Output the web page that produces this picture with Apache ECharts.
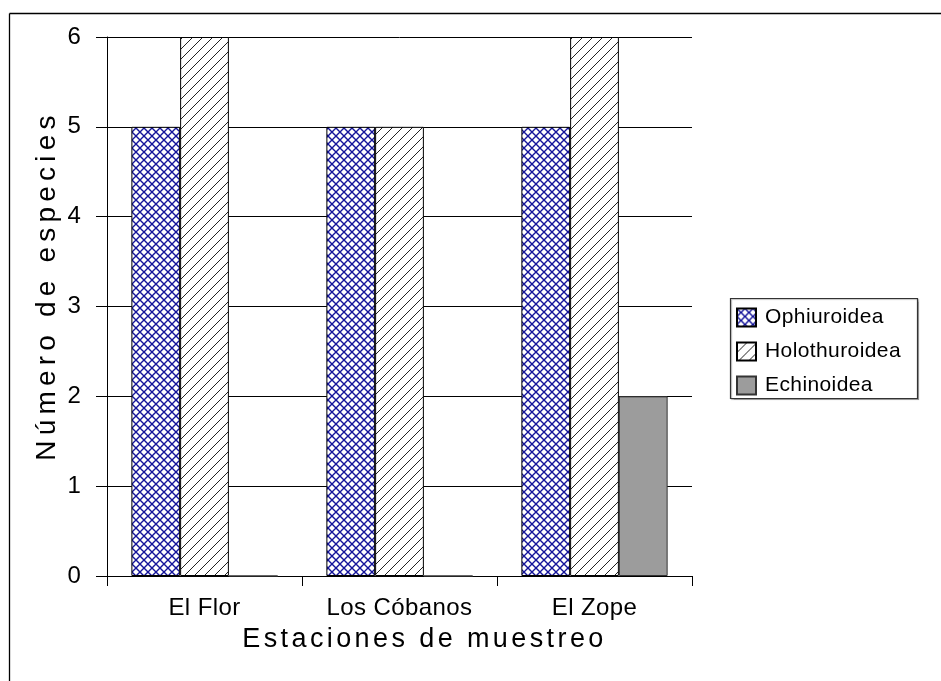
<!DOCTYPE html>
<html>
<head>
<meta charset="utf-8">
<script src="https://cdn.jsdelivr.net/npm/echarts@6/dist/echarts.min.js"></script>
<style>html,body{margin:0;padding:0;background:#fff}#chart{width:941px;height:681px}</style>
</head>
<body>
<div id="chart"></div>
<script>
// ---- data ----
const categories = ['El Flor', 'Los Cóbanos', 'El Zope'];
const seriesNames = ['Ophiuroidea', 'Holothuroidea', 'Echinoidea'];
const ophiuroidea = [5, 5, 5];
const holothuroidea = [6, 5, 6];
const echinoidea = [0, 0, 2];
const yTicks = [0, 1, 2, 3, 4, 5, 6];
const xName = 'Estaciones de muestreo';
const yName = 'Número de especies';

// letter spacing (the reference uses widened text)
const spacingMap = {};
spacingMap[xName] = 3.4;
spacingMap[yName] = 5.2;
function spacingFor(t) {
  if (spacingMap[t] !== undefined) return spacingMap[t];
  if (typeof t === 'string' && t.length > 1) return 0.4;
  return 0;
}
const origFill = CanvasRenderingContext2D.prototype.fillText;
CanvasRenderingContext2D.prototype.fillText = function (text, x, y, maxW) {
  const sp = spacingFor(text);
  if (sp && ('letterSpacing' in this)) {
    const prev = this.letterSpacing;
    this.letterSpacing = sp + 'px';
    let r = (maxW === undefined) ? origFill.call(this, text, x, y) : origFill.call(this, text, x, y, maxW);
    this.letterSpacing = prev;
    return r;
  }
  return origFill.apply(this, arguments);
};

function crossHatch() {
  const c = document.createElement('canvas');
  c.width = 8; c.height = 8;
  const g = c.getContext('2d');
  g.fillStyle = '#fff'; g.fillRect(0, 0, 8, 8);
  g.strokeStyle = '#14149a'; g.lineWidth = 1.4;
  g.beginPath();
  g.moveTo(0, 0); g.lineTo(8, 8);
  g.moveTo(0, 8); g.lineTo(8, 0);
  g.stroke();
  return c;
}
function diagHatch() {
  const s = 10;
  const c = document.createElement('canvas');
  c.width = s; c.height = s;
  const g = c.getContext('2d');
  g.fillStyle = '#fff'; g.fillRect(0, 0, s, s);
  g.strokeStyle = '#222'; g.lineWidth = 1;
  g.beginPath();
  g.moveTo(0, s); g.lineTo(s, 0);
  g.moveTo(-2, 2); g.lineTo(2, -2);
  g.moveTo(s - 2, s + 2); g.lineTo(s + 2, s - 2);
  g.stroke();
  return c;
}

const FONT = "'Liberation Sans', Arial, sans-serif";
const chart = echarts.init(document.getElementById('chart'), null, { renderer: 'canvas' });

const barBase = { type: 'bar', barGap: '0%', barCategoryGap: '25%', animation: false };

chart.setOption({
  backgroundColor: '#fff',
  animation: false,
  textStyle: { fontFamily: FONT, color: '#000' },
  grid: { left: 107, right: 249, top: 37, bottom: 105, containLabel: false },
  graphic: [
    { type: 'line', z: 0, shape: { x1: 9.5, y1: 13.5, x2: 941, y2: 13.5 }, style: { stroke: '#000', lineWidth: 1.3 } },
    { type: 'line', z: 0, shape: { x1: 9.5, y1: 13.5, x2: 9.5, y2: 681 }, style: { stroke: '#000', lineWidth: 1.3 } },
    { type: 'rect', z: 0, shape: { x: 730.5, y: 298.5, width: 187, height: 100 }, style: { fill: '#fff', stroke: '#333', lineWidth: 1.2, shadowColor: 'rgba(0,0,0,0.25)', shadowOffsetX: 1, shadowOffsetY: 1, shadowBlur: 1 } }
  ],
  legend: {
    data: seriesNames,
    orient: 'vertical',
    left: 736, top: 307,
    padding: 0,
    itemWidth: 19, itemHeight: 18, itemGap: 13,
    icon: 'rect',
    z: 10,
    textStyle: { fontFamily: FONT, fontSize: 21, color: '#000', lineHeight: 18, padding: [0, 0, 0, 4] }
  },
  xAxis: {
    type: 'category',
    data: categories,
    boundaryGap: true,
    axisLine: { lineStyle: { color: '#000', width: 1 } },
    axisTick: { show: true, length: 10, alignWithLabel: false, lineStyle: { color: '#000' } },
    axisLabel: { fontFamily: FONT, fontSize: 24, color: '#000', margin: 20 },
    name: xName,
    nameLocation: 'middle',
    nameGap: 50,
    nameTextStyle: { fontFamily: FONT, fontSize: 27, color: '#000', padding: [0, 0, 0, 50] }
  },
  yAxis: {
    type: 'value',
    min: yTicks[0], max: yTicks[yTicks.length - 1], interval: 1,
    axisLine: { show: true, lineStyle: { color: '#000', width: 1 } },
    axisTick: { show: true, length: 11, lineStyle: { color: '#000' } },
    axisLabel: { fontFamily: FONT, fontSize: 24, color: '#000', margin: 21 },
    splitLine: { show: true, lineStyle: { color: '#000', width: 1 } },
    name: yName,
    nameLocation: 'middle',
    nameGap: 46,
    nameRotate: 90,
    nameTextStyle: { fontFamily: FONT, fontSize: 28, color: '#000', padding: [0, 0, 0, 42] }
  },
  series: [
    Object.assign({}, barBase, {
      name: seriesNames[0], data: ophiuroidea,
      itemStyle: { color: { image: crossHatch(), repeat: 'repeat' }, borderColor: '#000', borderWidth: 1 }
    }),
    Object.assign({}, barBase, {
      name: seriesNames[1], data: holothuroidea,
      itemStyle: { color: { image: diagHatch(), repeat: 'repeat' }, borderColor: '#000', borderWidth: 1 }
    }),
    Object.assign({}, barBase, {
      name: seriesNames[2], data: echinoidea,
      itemStyle: { color: '#9c9c9c', borderColor: '#333', borderWidth: 1 }
    })
  ]
});
</script>
</body>
</html>
